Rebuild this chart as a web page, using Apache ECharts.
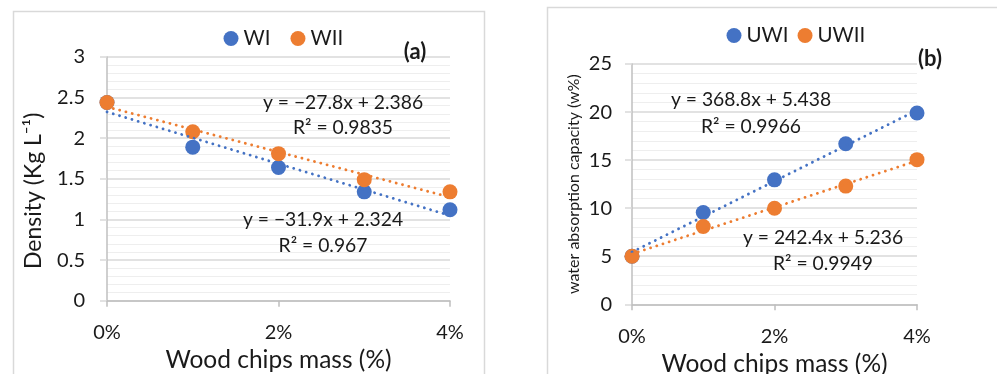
<!DOCTYPE html>
<html>
<head>
<meta charset="utf-8">
<script src="https://cdn.jsdelivr.net/npm/echarts@6/dist/echarts.min.js"></script>
<style>
  html, body { margin: 0; padding: 0; background: #fff; }
  #chart { width: 997px; height: 374px; }
</style>
</head>
<body>
<div id="chart"></div>
<script>
// Wood chips mass fraction (x) shared by both panels
const woodChips = [0, 0.01, 0.02, 0.03, 0.04];
const xTicks = ['0%', '2%', '4%'];

// Panel (a): density, kg/L
const densityWI = [2.44, 1.89, 1.64, 1.34, 1.12];
const densityWII = [2.44, 2.08, 1.81, 1.49, 1.34];
// linear fits: [slope, intercept]
const fitWI = [-31.9, 2.324];
const fitWII = [-27.8, 2.386];
const eqWI = ['y = \u221231.9x + 2.324', 'R\u00b2 = 0.967'];
const eqWII = ['y = \u221227.8x + 2.386', 'R\u00b2 = 0.9835'];

// Panel (b): water absorption capacity, w%
const absorptionUWI = [5.0, 9.55, 12.95, 16.7, 19.9];
const absorptionUWII = [5.0, 8.1, 10.0, 12.3, 15.05];
const fitUWI = [368.8, 5.438];
const fitUWII = [242.4, 5.236];
const eqUWI = ['y = 368.8x + 5.438', 'R\u00b2 = 0.9966'];
const eqUWII = ['y = 242.4x + 5.236', 'R\u00b2 = 0.9949'];

const BLUE = '#4472C4';
const ORANGE = '#ED7D31';
const FONT = 'Lato, "Open Sans", sans-serif';
const TXT = '#1a1a1a';

const pts = ys => woodChips.map((x, i) => [x, ys[i]]);
const fitLine = f => {
  const x0 = woodChips[0], x1 = woodChips[woodChips.length - 1];
  return [[x0, f[1] + f[0] * x0], [x1, f[1] + f[0] * x1]];
};
const tickText = v => {
  const i = Math.round(v / 0.02);
  return xTicks[i] !== undefined ? xTicks[i] : '';
};

function xAxisFor(gridIndex, nameGap) {
  return {
    type: 'value', gridIndex, min: 0, max: 0.04, interval: 0.02,
    name: 'Wood chips mass (%)', nameLocation: 'middle', nameGap,
    nameTextStyle: { fontFamily: FONT, fontSize: 24.5, color: TXT },
    axisLine: { show: true, lineStyle: { color: '#bfbfbf', width: 1.5 } },
    axisTick: { show: true, length: 6, lineStyle: { color: '#bfbfbf', width: 1.5 } },
    axisLabel: { formatter: tickText, fontFamily: FONT, fontSize: 20, color: TXT, margin: 22 },
    splitLine: { show: false }
  };
}

function yAxisFor(gridIndex, max, interval, name, nameSize, nameGap, labelMargin, namePad) {
  return {
    type: 'value', gridIndex, min: 0, max, interval,
    name, nameLocation: 'middle', nameGap,
    nameTextStyle: { fontFamily: FONT, fontSize: nameSize, color: TXT, padding: namePad },
    axisLine: { show: true, lineStyle: { color: '#bfbfbf', width: 1.5 } },
    axisTick: { show: true, length: 7, lineStyle: { color: '#d9d9d9', width: 1.5 } },
    axisLabel: { fontFamily: FONT, fontSize: 20, color: TXT, margin: labelMargin },
    splitLine: { show: true, lineStyle: { color: '#d9d9d9', width: 1.5 } },
    minorTick: { show: false, splitNumber: 5 },
    minorSplitLine: { show: true, lineStyle: { color: '#eeeeee', width: 1.2 } }
  };
}

function scatter(name, data, color, xi) {
  return {
    name, type: 'scatter', xAxisIndex: xi, yAxisIndex: xi, data,
    symbol: 'circle', symbolSize: 15, itemStyle: { color, opacity: 1 }, z: 3
  };
}
function trend(data, color, xi) {
  return {
    type: 'line', xAxisIndex: xi, yAxisIndex: xi, data, symbol: 'none',
    silent: true, z: 4,
    lineStyle: { color, width: 2.8, type: [0.1, 6.4], cap: 'round' }
  };
}

// two-line regression label centred at (cx, cy) and (cx, cy2)
function eqText(lines, cx, cy, cy2) {
  return lines.map((t, i) => ({
    type: 'text', x: cx, y: i === 0 ? cy : cy2, silent: true, z: 100,
    style: { text: t, font: '19.3px ' + FONT, fill: TXT, align: 'center', verticalAlign: 'middle' }
  }));
}

const legendText = { fontFamily: FONT, fontSize: 20.5, color: TXT };

const chart = echarts.init(document.getElementById('chart'), null, { renderer: 'canvas' });
chart.setOption({
  animation: false,
  backgroundColor: '#ffffff',
  grid: [
    { left: 107, right: 547, top: 57, bottom: 73.3, containLabel: false, outerBoundsMode: 'none' },
    { left: 632, right: 80, top: 64, bottom: 69.7, containLabel: false, outerBoundsMode: 'none' }
  ],
  xAxis: [xAxisFor(0, 44), xAxisFor(1, 41)],
  yAxis: [
    yAxisFor(0, 3, 0.5, 'Density (Kg L\u207b\u00b9)', 23, 62, 22, [0, 24, 0, 0]),
    yAxisFor(1, 25, 5, 'water absorption capacity (w%)', 16, 50, 20, [0, 0, 0, 0])
  ],
  legend: [
    {
      data: ['WI', 'WII'], left: 223.5, top: 28, padding: 0, itemGap: 20,
      icon: 'circle', itemWidth: 15, itemHeight: 15, textStyle: legendText
    },
    {
      data: ['UWI', 'UWII'], left: 726.5, top: 25, padding: 0, itemGap: 9,
      icon: 'circle', itemWidth: 15, itemHeight: 15, textStyle: legendText
    }
  ],
  series: [
    scatter('WI', pts(densityWI), BLUE, 0),
    scatter('WII', pts(densityWII), ORANGE, 0),
    trend(fitLine(fitWI), BLUE, 0),
    trend(fitLine(fitWII), ORANGE, 0),
    scatter('UWI', pts(absorptionUWI), BLUE, 1),
    scatter('UWII', pts(absorptionUWII), ORANGE, 1),
    trend(fitLine(fitUWI), BLUE, 1),
    trend(fitLine(fitUWII), ORANGE, 1)
  ],
  graphic: [
    { type: 'rect', shape: { x: 13.5, y: 11.5, width: 471, height: 400 },
      style: { fill: 'none', stroke: '#d9d9d9', lineWidth: 1.5 }, silent: true, z: -10 },
    { type: 'rect', shape: { x: 547.5, y: 7.5, width: 470, height: 400 },
      style: { fill: 'none', stroke: '#d9d9d9', lineWidth: 1.5 }, silent: true, z: -10 },
    { type: 'text', x: 415, y: 52, silent: true, z: 100,
      style: { text: '(a)', font: 'bold 22px ' + FONT, fill: TXT, align: 'center', verticalAlign: 'middle' } },
    { type: 'text', x: 930, y: 59, silent: true, z: 100,
      style: { text: '(b)', font: 'bold 22px ' + FONT, fill: TXT, align: 'center', verticalAlign: 'middle' } }
  ].concat(
    eqText(eqWII, 343, 103, 128),
    eqText(eqWI, 323, 220, 246),
    eqText(eqUWI, 751, 100, 127),
    eqText(eqUWII, 823, 238, 264)
  )
});
</script>
</body>
</html>
